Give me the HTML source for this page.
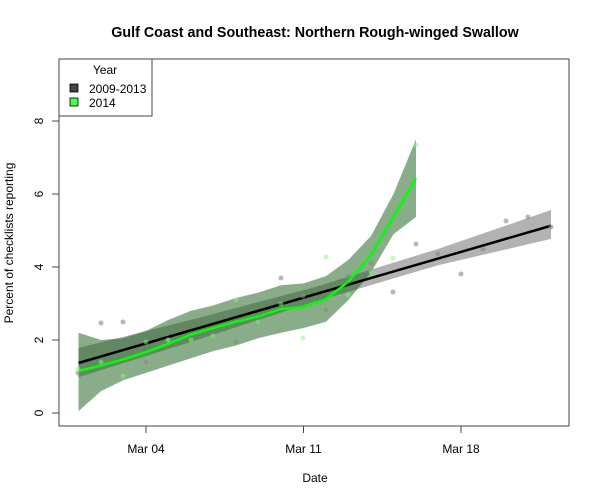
<!DOCTYPE html>
<html><head><meta charset="utf-8"><style>
body{margin:0;background:#fff}
svg{display:block;font-family:"Liberation Sans",Arial,sans-serif}
</style></head><body>
<svg width="600" height="500" viewBox="0 0 600 500" xmlns="http://www.w3.org/2000/svg">
<rect width="600" height="500" fill="#fff"/>
<text x="315" y="37" text-anchor="middle" font-size="14.3" font-weight="bold">Gulf Coast and Southeast: Northern Rough-winged Swallow</text>
<g transform="translate(56,413) scale(22.5,-36.5)">
  <polygon fill="#000" fill-opacity="0.3" points="1,1.78 6,2.55 11.5,3.45 17,4.5 22,5.56 22,4.77 17,4.05 11.5,3.05 6,1.95 1,0.98"/>
  <polygon fill="rgb(20,90,20)" fill-opacity="0.5" points="1,2.2 2,2.0 3,2.05 4,2.25 5,2.55 6,2.8 7,2.95 8,3.15 9,3.3 10,3.5 11,3.55 12,3.75 13,4.2 14,4.85 15,6.0 16,7.5 16,5.37 15,4.9 14,3.85 13,3.1 12,2.5 11,2.33 10,2.2 9,2.05 8,1.85 7,1.7 6,1.5 5,1.3 4,1.1 3,0.9 2,0.6 1,0.05"/>
  <polyline fill="none" stroke="#000" stroke-width="2.5" vector-effect="non-scaling-stroke" points="1,1.37 22,5.13"/>
  <polyline fill="none" stroke="#00ff00" stroke-width="2.5" vector-effect="non-scaling-stroke" points="1,1.15 2,1.3 3,1.47 4,1.67 5,1.9 6,2.15 7,2.33 8,2.5 9,2.65 10,2.85 11,2.9 12,3.12 13,3.6 14,4.33 15,5.37 16,6.43"/>
</g>
<g fill="#888" fill-opacity="0.6">
<circle cx="78" cy="373" r="2.5"/><circle cx="101" cy="323" r="2.5"/><circle cx="123" cy="322" r="2.5"/><circle cx="146" cy="362" r="2.5"/><circle cx="168" cy="340" r="2.5"/><circle cx="213" cy="336" r="2.5"/><circle cx="236" cy="342" r="2.5"/><circle cx="258" cy="322" r="2.5"/><circle cx="281" cy="278" r="2.5"/><circle cx="303" cy="296" r="2.5"/><circle cx="326" cy="310" r="2.5"/><circle cx="348" cy="276" r="2.5"/><circle cx="371" cy="263" r="2.5"/><circle cx="393" cy="292" r="2.5"/><circle cx="416" cy="244" r="2.5"/><circle cx="438" cy="254" r="2.5"/><circle cx="461" cy="274" r="2.5"/><circle cx="483" cy="249" r="2.5"/><circle cx="506" cy="221" r="2.5"/><circle cx="528" cy="217" r="2.5"/><circle cx="551" cy="227" r="2.5"/>
</g>
<g fill="#7f7" fill-opacity="0.5">
<circle cx="78" cy="369" r="2.5"/><circle cx="101" cy="362" r="2.5"/><circle cx="123" cy="376" r="2.5"/><circle cx="146" cy="342" r="2.5"/><circle cx="168" cy="340" r="2.5"/><circle cx="191" cy="340" r="2.5"/><circle cx="213" cy="336" r="2.5"/><circle cx="236" cy="300" r="2.5"/><circle cx="258" cy="322" r="2.5"/><circle cx="281" cy="304" r="2.5"/><circle cx="303" cy="338" r="2.5"/><circle cx="326" cy="257" r="2.5"/><circle cx="348" cy="295" r="2.5"/><circle cx="371" cy="272" r="2.5"/><circle cx="393" cy="258" r="2.5"/><circle cx="416" cy="145" r="2.5"/>
</g>
<rect x="59" y="59" width="510" height="367" fill="none" stroke="#444" stroke-width="1"/>
<g stroke="#444" stroke-width="1">
<line x1="146" y1="426" x2="146" y2="433"/><line x1="303.5" y1="426" x2="303.5" y2="433"/><line x1="461" y1="426" x2="461" y2="433"/>
<line x1="52" y1="413" x2="59" y2="413"/><line x1="52" y1="340" x2="59" y2="340"/><line x1="52" y1="267" x2="59" y2="267"/><line x1="52" y1="194" x2="59" y2="194"/><line x1="52" y1="121" x2="59" y2="121"/>
</g>
<g font-size="12" text-anchor="middle">
<text x="146" y="453">Mar 04</text><text x="303.5" y="453">Mar 11</text><text x="461" y="453">Mar 18</text>
<text x="315" y="482">Date</text>
<text transform="translate(43,413) rotate(-90)">0</text>
<text transform="translate(43,340) rotate(-90)">2</text>
<text transform="translate(43,267) rotate(-90)">4</text>
<text transform="translate(43,194) rotate(-90)">6</text>
<text transform="translate(43,121) rotate(-90)">8</text>
<text transform="translate(13,243) rotate(-90)">Percent of checklists reporting</text>
</g>
<rect x="59" y="59" width="93" height="57" fill="#fff" stroke="#444" stroke-width="1"/>
<text x="105" y="74" font-size="12" text-anchor="middle">Year</text>
<rect x="70" y="84" width="8" height="8" fill="#444" stroke="#000" stroke-width="0.8"/>
<rect x="70" y="98" width="8" height="8" fill="#4f4" stroke="#000" stroke-width="0.8"/>
<text x="89" y="93" font-size="12">2009-2013</text>
<text x="89" y="107" font-size="12">2014</text>
</svg>
</body></html>
